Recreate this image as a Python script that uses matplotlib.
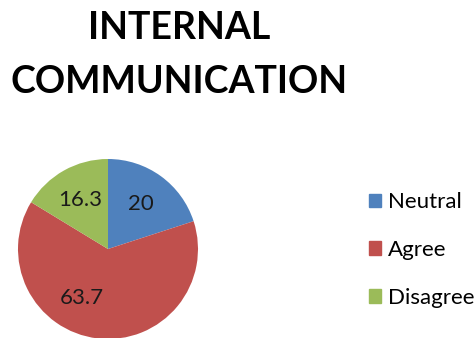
import numpy as np
import matplotlib.pyplot as plt

categories = ["Neutral", "Agree", "Disagree"]
values = [20, 63.7, 16.3]
colors = ["#4F81BD", "#C0504D", "#9BBB59"]

W, H = 475, 338
fig = plt.figure(figsize=(W / 100, H / 100), dpi=100)

# pie: centre (108, 249) px, radius 90 px
cx, cy, r = 108, 249, 90
ax = fig.add_axes([(cx - r) / W, (H - cy - r) / H, 2 * r / W, 2 * r / H])
wedges, _ = ax.pie(values, colors=colors, startangle=90, counterclock=False,
                   radius=1.0, wedgeprops=dict(linewidth=0))
ax.set_xlim(-1, 1)
ax.set_ylim(-1, 1)
ax.set_aspect("equal")
ax.axis("off")

# value labels, Excel-style placement
label_shift = [0, 21, 0]
for w, v, sh in zip(wedges, values, label_shift):
    ang = np.deg2rad((w.theta1 + w.theta2) / 2 - sh)
    ax.text(0.62 * np.cos(ang), 0.62 * np.sin(ang), f"{v:g}",
            ha="center", va="center", fontsize=16, family="Lato",
            color="#1a1a1a")

fig.text(179 / W, 1 - 28 / H, "INTERNAL", ha="center", va="center",
         fontsize=27, fontweight="bold", family="Lato")
fig.text(179 / W, 1 - 82 / H, "COMMUNICATION", ha="center", va="center",
         fontsize=27, fontweight="bold", family="Lato")

handles = [plt.Rectangle((0, 0), 1, 1, color=c) for c in colors]
fig.legend(handles, categories, loc="center left",
           bbox_to_anchor=(369 / W, 1 - 250 / H), frameon=False,
           borderpad=0, borderaxespad=0,
           prop=dict(family="Lato", size=16), handlelength=0.55,
           handleheight=0.55, handletextpad=0.3, labelspacing=1.25)

fig.savefig("out.png", dpi=100)
